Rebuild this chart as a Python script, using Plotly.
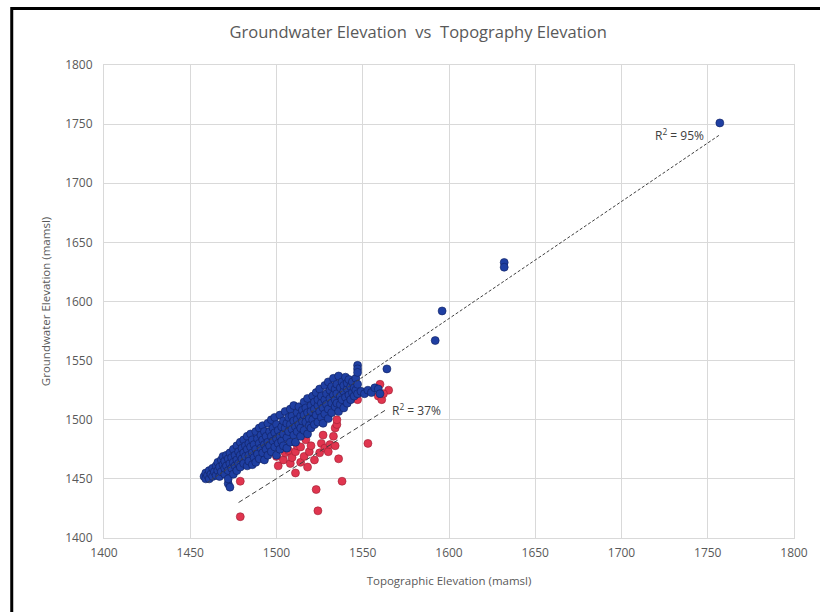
import plotly.graph_objects as go

# ---- data ----
blue_pts = [
    (1458,1452),(1459,1455),(1459,1450),(1460,1453),(1461,1457),(1461,1450),(1462,1454),(1463,1459),(1463,1452),(1464,1456),
    (1465,1461),(1465,1453),(1466,1457),(1466,1464),(1467,1452),(1467,1460),(1468,1466),(1468,1456),(1469,1462),(1469,1469),
    (1470,1454),(1470,1459),(1470,1465),(1471,1470),(1471,1461),(1472,1446),(1472,1450),(1472,1457),(1472,1467),
    (1473,1443),(1473,1463),(1473,1472),(1474,1459),(1474,1468),(1475,1454),(1475,1475),(1475,1464),(1476,1470),(1476,1461),
    (1477,1466),(1477,1478),(1477,1457),(1478,1473),(1478,1463),(1479,1460),(1479,1470),(1479,1481),(1480,1467),(1480,1476),
    (1481,1463),(1481,1472),(1481,1483),(1482,1469),(1482,1478),(1483,1461),(1483,1475),(1483,1486),(1484,1470),(1484,1480),
    (1484,1465),(1485,1477),(1485,1488),(1486,1462),(1486,1472),(1486,1483),(1487,1479),(1487,1468),(1488,1490),(1488,1475),
    (1488,1464),(1489,1484),(1489,1471),(1490,1480),(1490,1493),(1490,1467),(1491,1476),(1491,1487),(1492,1472),(1492,1483),
    (1492,1495),(1493,1490),(1493,1466),(1493,1479),(1494,1486),(1494,1475),(1495,1497),(1495,1481),(1495,1470),(1496,1490),
    (1496,1478),(1497,1486),(1497,1500),(1497,1473),(1498,1482),(1498,1493),(1499,1477),(1499,1489),(1499,1502),(1500,1484),
    (1500,1496),(1500,1470),(1501,1491),(1501,1480),(1502,1504),(1502,1486),(1502,1475),(1503,1494),(1503,1482),(1504,1499),
    (1504,1488),(1504,1478),(1505,1507),(1505,1493),(1506,1485),(1506,1497),(1506,1476),(1507,1502),(1507,1490),(1508,1481),
    (1508,1496),(1508,1509),(1509,1492),(1509,1503),(1510,1487),(1510,1499),(1510,1512),(1511,1494),(1511,1481),(1512,1506),
    (1512,1500),(1512,1490),(1513,1511),(1513,1496),(1514,1486),(1514,1503),(1514,1493),(1515,1508),(1515,1499),(1516,1515),
    (1516,1491),(1516,1504),(1517,1498),(1517,1510),(1518,1488),(1518,1506),(1518,1518),(1519,1501),(1519,1495),(1520,1512),
    (1520,1507),(1520,1493),(1521,1520),(1521,1500),(1522,1509),(1522,1496),(1522,1515),(1523,1504),(1523,1523),(1524,1512),
    (1524,1498),(1524,1517),(1525,1507),(1525,1526),(1526,1502),(1526,1514),(1526,1520),(1527,1510),(1527,1497),(1528,1517),
    (1528,1529),(1528,1505),(1529,1513),(1529,1522),(1530,1501),(1530,1509),(1530,1532),(1531,1518),(1531,1525),(1532,1506),
    (1532,1514),(1532,1528),(1533,1521),(1533,1535),(1534,1511),(1534,1517),(1534,1526),(1535,1530),(1535,1514),(1535,1522),
    (1536,1507),(1536,1537),(1537,1520),(1537,1527),(1537,1513),(1538,1532),(1538,1517),(1539,1524),(1539,1510),(1539,1529),
    (1540,1536),(1540,1519),(1541,1526),(1541,1514),(1541,1531),(1542,1521),(1542,1534),(1543,1528),(1543,1517),(1544,1532),
    (1544,1523),(1545,1527),(1545,1520),(1546,1535),(1546,1525),(1547,1546),(1547,1543),(1547,1540),(1547,1530),(1547,1522),
    (1549,1524),(1551,1522),(1553,1525),(1555,1523),(1557,1527),(1559,1526),(1560,1522),
    (1564,1543),(1592,1567),(1596,1592),(1632,1633),(1632,1629),(1757,1751),
]
blue_x = [p[0] for p in blue_pts]
blue_y = [p[1] for p in blue_pts]

red_pts = [
    (1479,1448),(1479,1418),(1500,1469),(1501,1461),(1502,1477),(1504,1466),(1505,1472),(1507,1474),(1508,1463),(1509,1468),
    (1511,1455),(1511,1473),(1512,1478),(1514,1477),(1514,1464),(1516,1469),(1517,1483),(1518,1460),(1519,1473),(1520,1478),
    (1522,1466),(1523,1441),(1524,1423),(1525,1472),(1526,1480),(1527,1487),(1528,1476),(1530,1473),(1531,1479),(1533,1486),
    (1534,1478),(1534,1493),(1535,1496),(1535,1500),(1536,1467),(1538,1448),(1547,1517),(1553,1480),(1559,1520),(1560,1530),
    (1561,1517),(1565,1525),(1562,1522),
]
red_x = [p[0] for p in red_pts]
red_y = [p[1] for p in red_pts]

blue_trend_x = [1460, 1757]
blue_trend_y = [1447, 1741]
red_trend_x = [1478, 1563]
red_trend_y = [1430, 1508]

blue_r2 = "R<sup>2</sup> = 95%"
red_r2 = "R<sup>2</sup> = 37%"

ticks = [1400, 1450, 1500, 1550, 1600, 1650, 1700, 1750, 1800]

FONT = "Open Sans"
GREY = "#595959"

fig = go.Figure()
fig.add_trace(go.Scatter(x=red_x, y=red_y, mode="markers",
                         marker=dict(size=8, color="#e0354f", line=dict(color="#9c1f33", width=0.6)),
                         showlegend=False))
fig.add_trace(go.Scatter(x=blue_x, y=blue_y, mode="markers",
                         marker=dict(size=8, color="#1f3fa2", line=dict(color="#0f2060", width=0.6)),
                         showlegend=False))
fig.add_trace(go.Scatter(x=blue_trend_x, y=blue_trend_y, mode="lines",
                         line=dict(color="#404040", width=1, dash="3px,2px"), showlegend=False))
fig.add_trace(go.Scatter(x=red_trend_x, y=red_trend_y, mode="lines",
                         line=dict(color="#404040", width=1, dash="5px,3px"), showlegend=False))

fig.add_annotation(x=blue_trend_x[1] - 8, y=blue_trend_y[1], text=blue_r2, showarrow=False,
                   xanchor="right", yanchor="middle", font=dict(family=FONT, size=12, color="#404040"))
fig.add_annotation(x=red_trend_x[1] + 3, y=red_trend_y[1], text=red_r2, showarrow=False,
                   xanchor="left", yanchor="middle", font=dict(family=FONT, size=12, color="#404040"))

# outer black frame
fig.add_shape(type="rect", xref="paper", yref="paper",
              x0=-0.1337, x1=1.06, y0=-0.2, y1=1.1195,
              line=dict(color="black", width=3), fillcolor="rgba(0,0,0,0)")

axis_common = dict(range=[1400, 1800], tickvals=ticks, showgrid=True, gridcolor="#d9d9d9", gridwidth=1,
                   showline=True, linecolor="#d9d9d9", linewidth=1, mirror=True, zeroline=False,
                   ticks="", tickfont=dict(family=FONT, size=12, color=GREY))

fig.update_layout(
    width=820, height=612,
    margin=dict(l=104, r=24, t=65, b=74),
    paper_bgcolor="white", plot_bgcolor="white",
    title=dict(text="Groundwater Elevation&nbsp;&nbsp;vs&nbsp;&nbsp;Topography Elevation",
               x=0.51, xanchor="center", y=1 - 32 / 612, yanchor="middle",
               font=dict(family=FONT, size=16.5, color=GREY)),
    xaxis=dict(**axis_common, ticklabelstandoff=4,
               title=dict(text="Topographic Elevation (mamsl)", standoff=16,
                          font=dict(family=FONT, size=11.5, color=GREY))),
    yaxis=dict(**axis_common, ticklabelstandoff=8,
               title=dict(text="Groundwater Elevation (mamsl)", standoff=12,
                          font=dict(family=FONT, size=11.5, color=GREY))),
)

fig.write_html("out.html")
